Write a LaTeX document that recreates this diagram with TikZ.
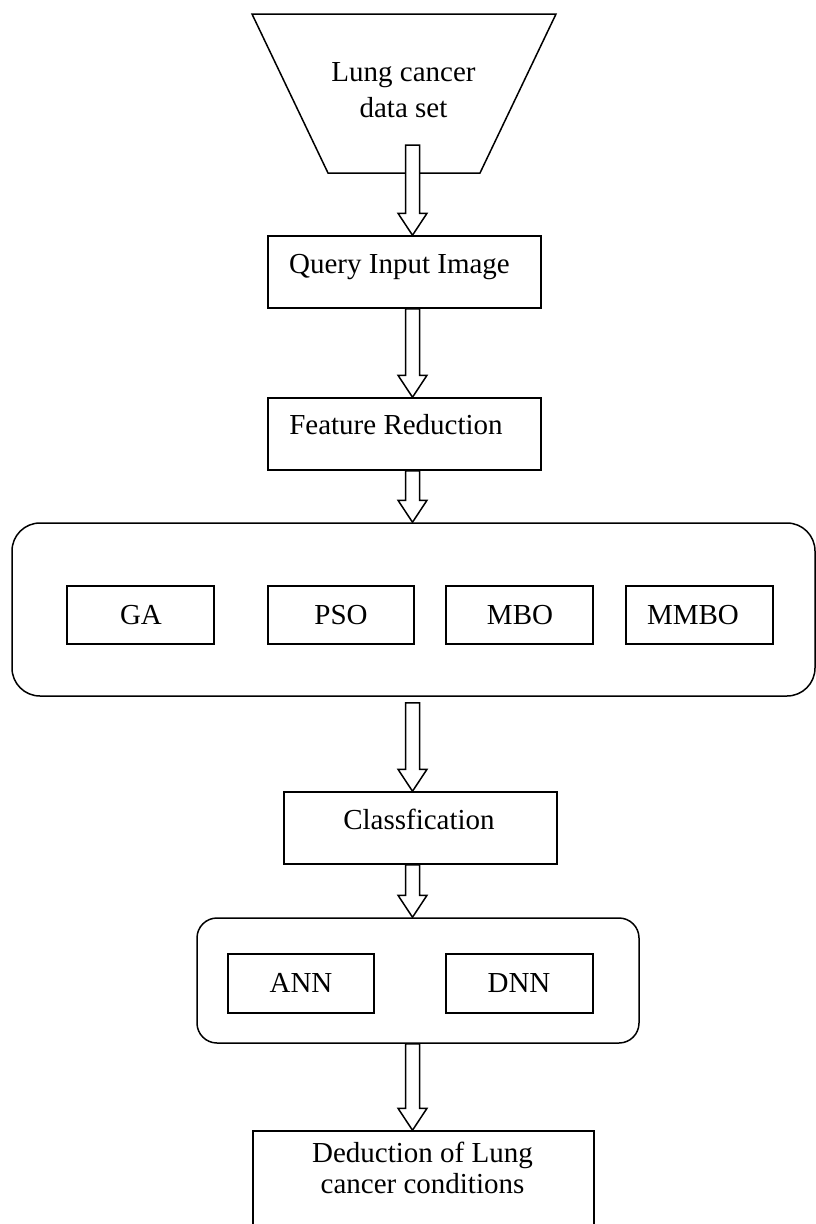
\documentclass[tikz,border=0pt]{standalone}
\usepackage{fontspec}
\setmainfont{Liberation Serif}
\usetikzlibrary{calc}
\newcommand\blockarrow[2]{\draw[blk] ($(#1)+(-7,0)$) -- ($(#1)+(7,0)$) -- ($(#2)+(7,-22)$) -- ($(#2)+(14.5,-22)$) -- (#2) -- ($(#2)+(-14.5,-22)$) -- ($(#2)+(-7,-22)$) -- cycle;}
\begin{document}
\begin{tikzpicture}[x=1pt,y=-1pt,line width=1.5pt,
  box/.style={draw,rectangle,inner sep=0pt},
  lbl/.style={font=\fontsize{29}{36}\selectfont,inner sep=0pt,anchor=base},
  mlbl/.style={font=\fontsize{29}{36}\selectfont,inner sep=0pt,align=center},
  cont/.style={draw,rectangle,inner sep=0pt},
  blk/.style={draw,fill=white,line join=miter}]
\useasboundingbox (0,0) rectangle (816,1224);
\clip (0,0) rectangle (816,1224);
% data set trapezoid
\coordinate (tl) at (252,14);
\coordinate (tr) at (556,14);
\coordinate (br) at (480,173);
\coordinate (bl) at (328,173);
\draw[line join=miter] (tl) -- (tr) -- (br) -- (bl) -- cycle;
\node[mlbl] (ds) at (403.5,90.4) {Lung cancer\\data set};
% boxes
\node[box,minimum width=273,minimum height=72] (q) at (404.5,272) {};
\node[lbl] (qt) at (399.5,273) {Query Input Image};
\node[box,minimum width=273,minimum height=72] (fr) at (404.5,434) {};
\node[lbl] (frt) at (396,434) {Feature Reduction};
\node[cont,rounded corners=28pt,minimum width=803,minimum height=173] (c1) at (413.5,609.5) {};
\node[box,minimum width=147,minimum height=58] (ga) at (140.5,615) {};
\node[lbl] at (141,624) {GA};
\node[box,minimum width=146,minimum height=58] (pso) at (341,615) {};
\node[lbl] at (341,624) {PSO};
\node[box,minimum width=147,minimum height=58] (mbo) at (519.5,615) {};
\node[lbl] at (520,624) {MBO};
\node[box,minimum width=147,minimum height=58] (mmbo) at (699.5,615) {};
\node[lbl] at (693,624) {MMBO};
\node[box,minimum width=273,minimum height=72] (cl) at (420.5,828) {};
\node[lbl] (clt) at (419,829) {Classfication};
\node[cont,rounded corners=20pt,minimum width=442,minimum height=125] (c2) at (418,980.5) {};
\node[box,minimum width=146,minimum height=59] (ann) at (301,983.5) {};
\node[lbl] at (301,992) {ANN};
\node[box,minimum width=147,minimum height=59] (dnn) at (519.5,983.5) {};
\node[lbl] at (519,992) {DNN};
\node[box,minimum width=341,minimum height=118] (d) at (423.5,1190) {};
\node[mlbl,font=\fontsize{29}{31}\selectfont] (dt) at (422.5,1167.6) {Deduction of Lung\\cancer conditions};
% arrows
\coordinate (ax) at (412.5,0);
\coordinate (s1) at (412.5,145);
\coordinate (t1) at (q.north -| ax);
\coordinate (s2) at (q.south -| ax);
\coordinate (t2) at (fr.north -| ax);
\coordinate (s3) at (fr.south -| ax);
\coordinate (t3) at (c1.north -| ax);
\path (c1.south -| ax) ++(0,6) coordinate (s4);
\coordinate (t4) at (cl.north -| ax);
\coordinate (s5) at (cl.south -| ax);
\coordinate (t5) at (c2.north -| ax);
\coordinate (s6) at (c2.south -| ax);
\coordinate (t6) at (d.north -| ax);
\blockarrow{s1}{t1}
\blockarrow{s2}{t2}
\blockarrow{s3}{t3}
\blockarrow{s4}{t4}
\blockarrow{s5}{t5}
\blockarrow{s6}{t6}
\end{tikzpicture}
\end{document}
